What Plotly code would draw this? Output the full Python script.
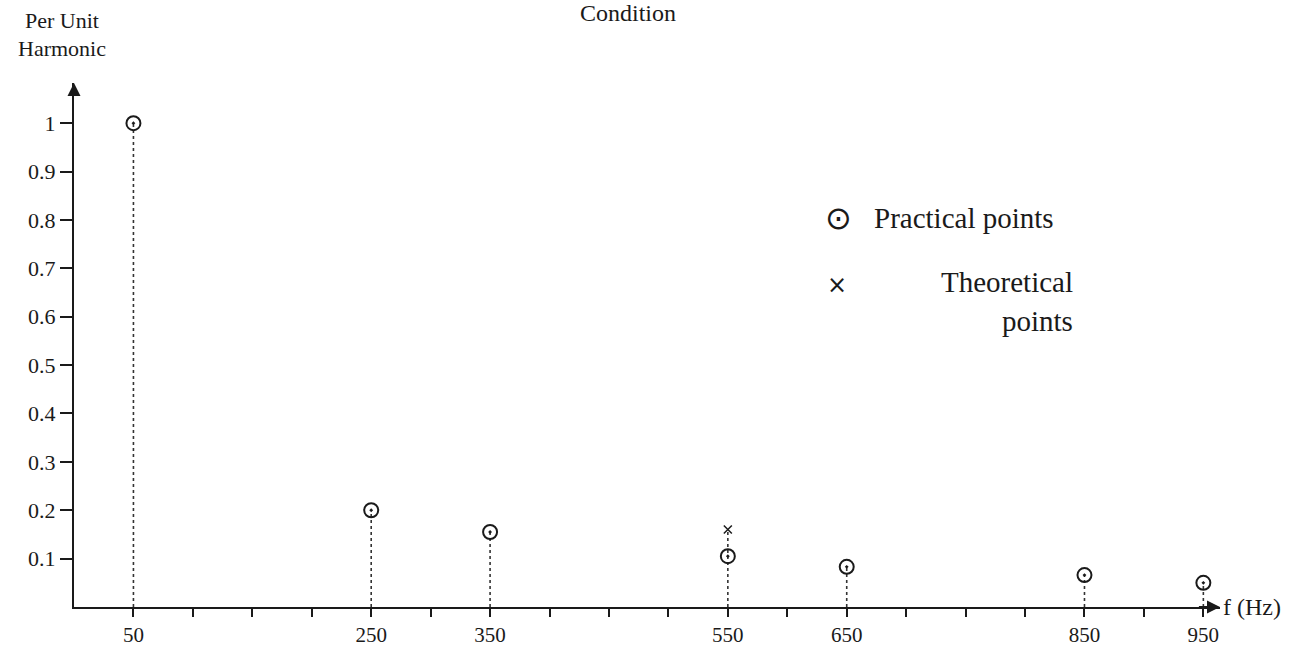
import plotly.graph_objects as go

# ---- data ----
freq_hz = [50, 250, 350, 550, 650, 850, 950]
practical_pu = [1.0, 0.20, 0.155, 0.105, 0.083, 0.066, 0.05]
theoretical_freq = [550]
theoretical_pu = [0.16]

x_tick_vals = list(range(50, 1000, 50))
x_labelled = [50, 250, 350, 550, 650, 850, 950]
y_tick_vals = [0.1, 0.2, 0.3, 0.4, 0.5, 0.6, 0.7, 0.8, 0.9, 1.0]
y_tick_text = ["0.1", "0.2", "0.3", "0.4", "0.5", "0.6", "0.7", "0.8", "0.9", "1"]

FONT = "Liberation Serif, Times New Roman, serif"
INK = "#1a1a1a"

# stems go up to the highest point at each frequency
theo_map = dict(zip(theoretical_freq, theoretical_pu))
stem_x, stem_y = [], []
for f, v in zip(freq_hz, practical_pu):
    top = max(v, theo_map.get(f, 0))
    stem_x += [f, f, None]
    stem_y += [0, top, None]

fig = go.Figure()
fig.add_trace(go.Scatter(
    x=stem_x, y=stem_y, mode="lines",
    line=dict(color="#333333", width=1.6, dash="dot"),
    hoverinfo="skip", showlegend=False))
fig.add_trace(go.Scatter(
    x=freq_hz, y=practical_pu, mode="markers", name="Practical points",
    marker=dict(symbol="circle-open-dot", size=14, color=INK,
                line=dict(color=INK, width=2)),
    showlegend=False))
fig.add_trace(go.Scatter(
    x=theoretical_freq, y=theoretical_pu, mode="markers", name="Theoretical points",
    marker=dict(symbol="x-thin-open", size=8, color=INK,
                line=dict(color=INK, width=1.5)),
    showlegend=False))

W, H = 1307, 650
L, R, T, B = 74, 87, 83, 43
pw, ph = W - L - R, H - T - B


def px(x):
    return (x - L) / pw


def py(y):
    return (H - B - y) / ph


annotations = [
    # axis arrows
    dict(x=964, y=0, ax=945, ay=0, xref="x", yref="y", axref="x", ayref="y",
         showarrow=True, arrowhead=2, arrowsize=1.3, arrowwidth=2,
         arrowcolor=INK, text=""),
    dict(x=0, y=1.083, ax=0, ay=1.06, xref="x", yref="y", axref="x", ayref="y",
         showarrow=True, arrowhead=2, arrowsize=1.3, arrowwidth=2,
         arrowcolor=INK, text=""),
    # title fragment
    dict(x=px(628), y=py(13), xref="paper", yref="paper", text="Condition",
         showarrow=False, xanchor="center", yanchor="middle",
         font=dict(family=FONT, size=24, color=INK)),
    # y axis title
    dict(x=px(62), y=py(21), xref="paper", yref="paper", text="Per Unit",
         showarrow=False, xanchor="center", yanchor="middle",
         font=dict(family=FONT, size=22, color=INK)),
    dict(x=px(62), y=py(49), xref="paper", yref="paper", text="Harmonic",
         showarrow=False, xanchor="center", yanchor="middle",
         font=dict(family=FONT, size=22, color=INK)),
    # x axis title
    dict(x=px(1221), y=py(607), xref="paper", yref="paper", text="f (Hz)",
         showarrow=False, xanchor="left", yanchor="middle",
         font=dict(family=FONT, size=24, color=INK)),
    # legend
    dict(x=px(838), y=py(218), xref="paper", yref="paper", text="⊙",
         showarrow=False, xanchor="center", yanchor="middle",
         font=dict(family="DejaVu Sans", size=32, color=INK)),
    dict(x=px(872), y=py(218), xref="paper", yref="paper", text="Practical points",
         showarrow=False, xanchor="left", yanchor="middle",
         font=dict(family=FONT, size=29, color=INK)),
    dict(x=px(837), y=py(285), xref="paper", yref="paper", text="×",
         showarrow=False, xanchor="center", yanchor="middle",
         font=dict(family="DejaVu Sans", size=24, color=INK)),
    dict(x=px(1075), y=py(282), xref="paper", yref="paper", text="Theoretical",
         showarrow=False, xanchor="right", yanchor="middle",
         font=dict(family=FONT, size=29, color=INK)),
    dict(x=px(1075), y=py(321), xref="paper", yref="paper", text="points",
         showarrow=False, xanchor="right", yanchor="middle",
         font=dict(family=FONT, size=29, color=INK)),
]

fig.update_layout(
    width=W, height=H,
    margin=dict(l=L, r=R, t=T, b=B, autoexpand=False),
    paper_bgcolor="white", plot_bgcolor="white",
    font=dict(family=FONT, color=INK),
    annotations=annotations,
    xaxis=dict(
        range=[0, 964], showgrid=False, zeroline=False, automargin=False,
        showline=True, linecolor=INK, linewidth=2,
        ticks="outside", ticklen=8, tickwidth=2, tickcolor=INK,
        tickvals=x_tick_vals,
        ticktext=[str(v) if v in x_labelled else "" for v in x_tick_vals],
        tickfont=dict(family=FONT, size=21, color=INK),
    ),
    yaxis=dict(
        range=[0, 1.083], showgrid=False, zeroline=False, automargin=False,
        showline=True, linecolor=INK, linewidth=2,
        ticks="outside", ticklen=12, tickwidth=2, tickcolor=INK,
        tickvals=y_tick_vals, ticktext=y_tick_text,
        tickfont=dict(family=FONT, size=22, color=INK),
    ),
)

fig.write_html("out.html")
